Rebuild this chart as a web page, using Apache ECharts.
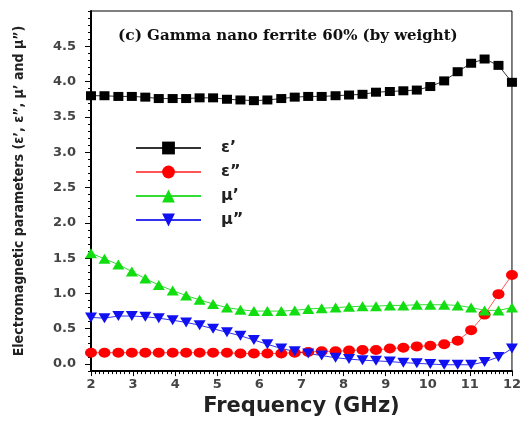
<!DOCTYPE html>
<html>
<head>
<meta charset="utf-8">
<script src="https://cdn.jsdelivr.net/npm/echarts@6/dist/echarts.min.js"></script>
<style>
  html, body { margin: 0; padding: 0; background: #fff; }
  #chart { width: 524px; height: 422px; }
</style>
</head>
<body>
<div id="chart"></div>
<script>
// Frequency sweep, 2–12 GHz (32 measurement points)
const frequency = [2.00, 2.32, 2.65, 2.97, 3.29, 3.61, 3.94, 4.26, 4.58, 4.90,
  5.23, 5.55, 5.87, 6.19, 6.52, 6.84, 7.16, 7.48, 7.81, 8.13,
  8.45, 8.77, 9.10, 9.42, 9.74, 10.06, 10.39, 10.71, 11.03, 11.35,
  11.68, 12.00];

// ε′ (real permittivity)
const epsReal = [3.80, 3.80, 3.79, 3.79, 3.78, 3.76, 3.76, 3.76, 3.77, 3.77,
  3.75, 3.74, 3.73, 3.74, 3.76, 3.78, 3.79, 3.79, 3.80, 3.81,
  3.82, 3.85, 3.86, 3.87, 3.88, 3.93, 4.01, 4.14, 4.26, 4.32,
  4.23, 3.99];

// ε″ (imaginary permittivity)
const epsImag = [0.16, 0.16, 0.16, 0.16, 0.16, 0.16, 0.16, 0.16, 0.16, 0.16,
  0.16, 0.15, 0.15, 0.15, 0.15, 0.16, 0.17, 0.18, 0.18, 0.19,
  0.20, 0.20, 0.22, 0.23, 0.25, 0.26, 0.28, 0.33, 0.48, 0.70,
  0.99, 1.26];

// μ′ (real permeability)
const muReal = [1.57, 1.49, 1.41, 1.31, 1.21, 1.12, 1.04, 0.97, 0.91, 0.85,
  0.80, 0.77, 0.75, 0.75, 0.75, 0.76, 0.78, 0.79, 0.80, 0.81,
  0.82, 0.82, 0.83, 0.83, 0.84, 0.84, 0.84, 0.83, 0.80, 0.76,
  0.76, 0.80];

// μ″ (imaginary permeability)
const muImag = [0.66, 0.65, 0.68, 0.68, 0.67, 0.65, 0.62, 0.59, 0.55, 0.50,
  0.45, 0.40, 0.34, 0.28, 0.22, 0.18, 0.15, 0.12, 0.09, 0.07,
  0.055, 0.045, 0.035, 0.02, 0.01, 0.00, -0.01, -0.01, -0.01, 0.03,
  0.10, 0.22];

const seriesNames = ['ε’', 'ε”', 'μ’', 'μ”'];
const yLabelValues = [0, 0.5, 1.0, 1.5, 2.0, 2.5, 3.0, 3.5, 4.0, 4.5];

const pairs = (ys) => frequency.map((f, i) => [f, ys[i]]);

const tickFont = {
  fontFamily: 'DejaVu Sans',
  fontWeight: 'bold',
  fontSize: 13,
  color: '#444'
};

const chart = echarts.init(document.getElementById('chart'), null, { renderer: 'canvas' });

function lineSeries(name, data, color, lineColor, symbol, size, rotate) {
  return {
    name: name,
    type: 'line',
    data: pairs(data),
    symbol: symbol,
    symbolSize: size,
    symbolRotate: rotate || 0,
    showAllSymbol: true,
    itemStyle: { color: color },
    lineStyle: { color: lineColor, width: 1 },
    emphasis: { disabled: true },
    z: 3
  };
}

chart.setOption({
  animation: false,
  backgroundColor: '#ffffff',
  title: {
    text: '{a|(c)} {b|Gamma nano ferrite 60% (by weight)}',
    left: 113,
    top: 22,
    textStyle: {
      rich: {
        a: { fontFamily: 'DejaVu Serif', fontWeight: 'bold', fontSize: 15.5, color: '#111' },
        b: { fontFamily: 'DejaVu Serif', fontWeight: 'bold', fontSize: 15, color: '#111' }
      }
    }
  },
  legend: {
    orient: 'vertical',
    left: 130,
    top: 135,
    itemWidth: 65,
    itemHeight: 16,
    itemGap: 8,
    data: seriesNames,
    textStyle: {
      fontFamily: 'DejaVu Sans',
      fontWeight: 'bold',
      fontSize: 16,
      color: '#222',
      padding: [0, 0, 0, 15]
    }
  },
  grid: {
    left: 91,
    right: 12,
    top: 11,
    bottom: 49,
    show: true,
    borderColor: '#000',
    borderWidth: 1,
    backgroundColor: 'transparent'
  },
  xAxis: {
    type: 'value',
    min: 2,
    max: 12,
    interval: 1,
    name: 'Frequency (GHz)',
    nameLocation: 'middle',
    nameGap: 24,
    nameTextStyle: {
      fontFamily: 'DejaVu Sans',
      fontWeight: 'bold',
      fontSize: 21,
      color: '#222'
    },
    axisLine: { show: true, onZero: false, lineStyle: { color: '#000', width: 2 } },
    axisTick: { show: true, length: 5, lineStyle: { color: '#000', width: 1 } },
    minorTick: { show: true, splitNumber: 10, length: 3, lineStyle: { color: '#000', width: 1 } },
    axisLabel: Object.assign({ margin: 7 }, tickFont),
    splitLine: { show: false }
  },
  yAxis: [
    {
      type: 'value',
      min: -0.1,
      max: 5.0,
      name: 'Electromagnetic parameters (ε’, ε”, μ’ and μ”)',
      nameLocation: 'middle',
      nameGap: 65,
      nameTextStyle: {
        fontFamily: "'Liberation Sans Narrow', 'DejaVu Sans Condensed', sans-serif",
        fontWeight: 'bold',
        fontSize: 14,
        color: '#222'
      },
      axisLine: { show: true, onZero: false, lineStyle: { color: '#000', width: 2 } },
      axisTick: { show: true, length: 6, customValues: yLabelValues, lineStyle: { color: '#000', width: 1 } },
      axisLabel: Object.assign({
        margin: 15,
        customValues: yLabelValues,
        formatter: (v) => v.toFixed(1)
      }, tickFont),
      splitLine: { show: false }
    },
    {
      // fine 0.1 ticks along the same scale
      type: 'value',
      min: -0.1,
      max: 5.0,
      interval: 0.1,
      position: 'left',
      axisLine: { show: false },
      axisTick: { show: true, length: 3, lineStyle: { color: '#000', width: 1 } },
      axisLabel: { show: false },
      splitLine: { show: false }
    }
  ],
  series: [
    lineSeries(seriesNames[0], epsReal, '#000000', '#333333', 'rect', [10, 9]),
    lineSeries(seriesNames[1], epsImag, '#ff0000', '#ff5555', 'circle', [12, 10]),
    lineSeries(seriesNames[2], muReal, '#11dd11', '#33dd33', 'triangle', [12, 10]),
    lineSeries(seriesNames[3], muImag, '#1010f0', '#3333ee', 'triangle', [12, 10], 180)
  ]
});
</script>
</body>
</html>
